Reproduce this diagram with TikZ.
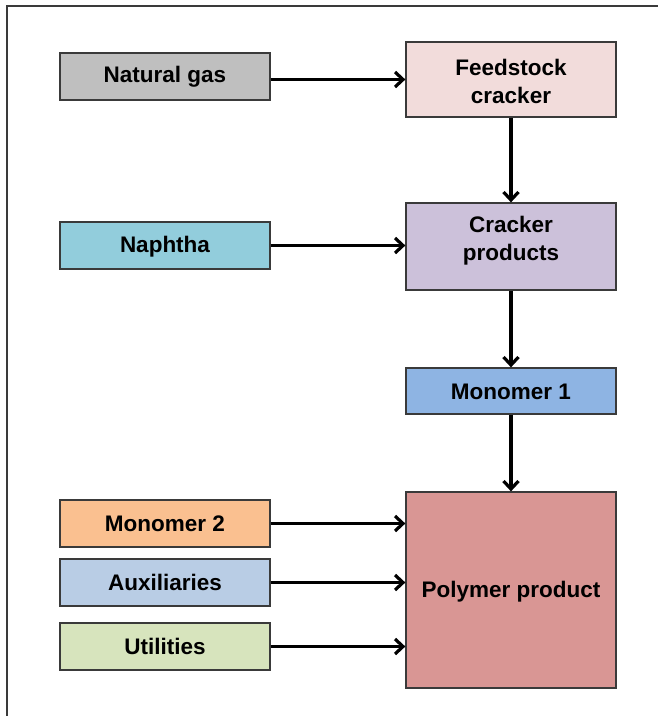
\documentclass[tikz,border=0pt]{standalone}
\usepackage{fontspec}
\setmainfont{Liberation Sans}
\usetikzlibrary{arrows.meta}
\definecolor{cNG}{HTML}{BFBFBF}
\definecolor{cFC}{HTML}{F2DCDB}
\definecolor{cNA}{HTML}{92CDDC}
\definecolor{cCP}{HTML}{CCC1DA}
\definecolor{cMA}{HTML}{8EB4E3}
\definecolor{cMB}{HTML}{FAC090}
\definecolor{cAU}{HTML}{B9CDE5}
\definecolor{cUT}{HTML}{D7E4BD}
\definecolor{cPP}{HTML}{D99694}
\definecolor{edge}{HTML}{3A3A3A}
\tikzset{
  lbl/.style={font=\fontsize{22.5}{28}\selectfont\bfseries, align=center},
  box/.style={draw=edge, line width=1.3pt, inner sep=0pt, lbl, minimum width=210pt},
  flow/.style={line width=3.2pt, -{Straight Barb[length=8pt,width=15pt,line width=3.2pt]}},
}
\begin{document}
\begin{tikzpicture}[x=1pt,y=-1pt]
\useasboundingbox (0,0) rectangle (658,716);
\draw[edge, line width=1.3pt] (7,716) -- (7,6) -- (660,6);
\node[box, fill=cNG, minimum height=47pt] (ng) at (165,76.5) {};
\node[lbl] at (165,77) {Natural gas};
\node[box, fill=cFC, minimum height=75pt] (fc) at (511,79.5) {};
\node[lbl] at (511,81.5) {Feedstock\\cracker};
\node[box, fill=cNA, minimum height=47pt] (na) at (165,245.5) {};
\node[lbl] at (165,246.5) {Naphtha};
\node[box, fill=cCP, minimum height=87pt] (cp) at (511,246.5) {};
\node[lbl] at (511,240.5) {Cracker\\products};
\node[box, fill=cMA, minimum height=46pt] (ma) at (511,391) {};
\node[lbl] at (511,391.5) {Monomer 1};
\node[box, fill=cMB, minimum height=47pt] (mb) at (165,523.5) {};
\node[lbl] at (165,523.5) {Monomer 2};
\node[box, fill=cAU, minimum height=47pt] (au) at (165,582.5) {};
\node[lbl] at (165,582) {Auxiliaries};
\node[box, fill=cUT, minimum height=47pt] (ut) at (165,646.5) {};
\node[lbl] at (165,646) {Utilities};
\node[box, fill=cPP, minimum height=196pt] (pp) at (511,590) {};
\node[lbl] at (511,592) {Polymer product};
\draw[flow] (ng.east |- fc.center) -- (fc.west);
\draw[flow] (na.east) -- (na.east -| cp.west);
\draw[flow] (fc.south) -- (cp.north);
\draw[flow] (cp.south) -- (ma.north);
\draw[flow] (ma.south) -- (pp.north);
\draw[flow] (mb.east) -- (mb.east -| pp.west);
\draw[flow] (au.east) -- (au.east -| pp.west);
\draw[flow] (ut.east) -- (ut.east -| pp.west);
\end{tikzpicture}
\end{document}
